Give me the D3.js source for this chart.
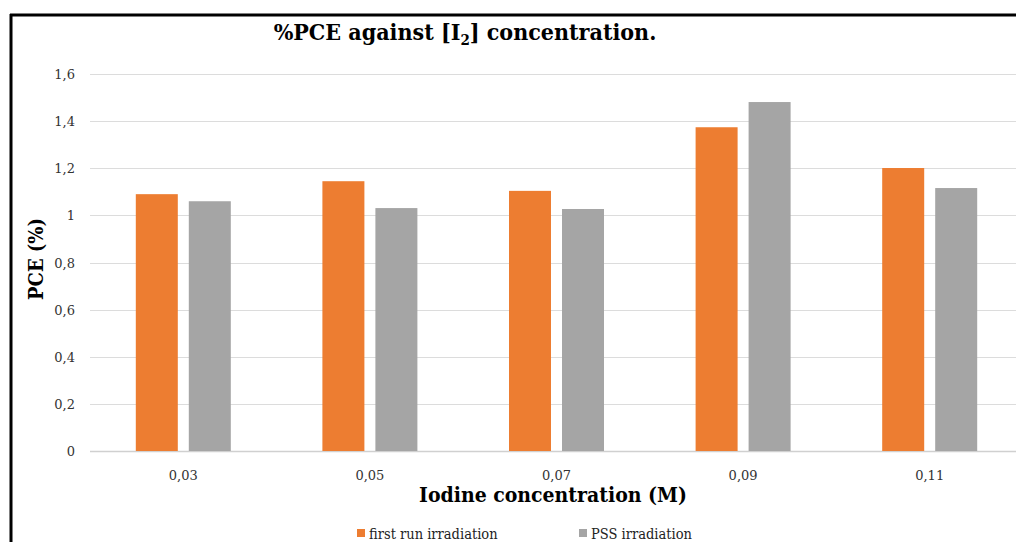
<!DOCTYPE html>
<html>
<head>
<meta charset="utf-8">
<script src="https://cdn.jsdelivr.net/npm/d3@7"></script>
<style>
  body { margin: 0; background: #fff; }
  svg { display: block; }
</style>
</head>
<body>
<div id="chart"></div>
<script>
// data
var categories = ["0,03", "0,05", "0,07", "0,09", "0,11"];
var seriesNames = ["first run irradiation", "PSS irradiation"];
var firstRun = [1.09, 1.145, 1.104, 1.374, 1.201];
var pss = [1.06, 1.031, 1.027, 1.481, 1.116];
var yTicks = [0, 0.2, 0.4, 0.6, 0.8, 1, 1.2, 1.4, 1.6];
var colors = ["#ed7d31", "#a5a5a5"];

var W = 1016, H = 542;
var svg = d3.select("#chart").append("svg")
  .attr("width", W).attr("height", H);

// frame round the chart
svg.append("line").attr("x1", 10).attr("x2", W).attr("y1", 15).attr("y2", 15)
  .attr("stroke", "#000").attr("stroke-width", 3);
svg.append("line").attr("x1", 11).attr("x2", 11).attr("y1", 14).attr("y2", H)
  .attr("stroke", "#000").attr("stroke-width", 3);

var plotL = 90, plotR = 1023, plotT = 74, plotB = 451;
var x = d3.scaleBand().domain(categories).range([plotL, plotR]);
var y = d3.scaleLinear().domain([0, 1.6]).range([plotB, plotT]);

var serif = "'DejaVu Serif', serif";
var serifC = "'DejaVu Serif Condensed', 'DejaVu Serif', serif";

// grid
svg.append("g").selectAll("line").data(yTicks).enter().append("line")
  .attr("x1", plotL).attr("x2", W)
  .attr("y1", function(d){ return Math.round(y(d)) + 0.5; })
  .attr("y2", function(d){ return Math.round(y(d)) + 0.5; })
  .attr("stroke", function(d){ return d == 0 ? "#d0d0d0" : "#dcdcdc"; })
  .attr("stroke-width", function(d){ return d == 0 ? 1.5 : 1; });

// y tick labels
svg.append("g").selectAll("text").data(yTicks).enter().append("text")
  .attr("x", 75).attr("y", function(d){ return y(d) + 5; })
  .attr("text-anchor", "end")
  .attr("font-family", serif).attr("font-size", 13).attr("fill", "#333")
  .text(function(d){ return String(d).replace(".", ","); });

// bars
var barW = 42, gap = 11;
var series = [firstRun, pss];
series.forEach(function(vals, s){
  svg.append("g").selectAll("rect").data(vals).enter().append("rect")
    .attr("x", function(d, i){
      var c = x(categories[i]) + x.bandwidth() / 2;
      return s == 0 ? c - gap / 2 - barW : c + gap / 2;
    })
    .attr("y", function(d){ return y(d); })
    .attr("width", barW)
    .attr("height", function(d){ return y(0) - y(d); })
    .attr("fill", colors[s]);
});

// x tick labels
svg.append("g").selectAll("text").data(categories).enter().append("text")
  .attr("x", function(d){ return x(d) + x.bandwidth() / 2; })
  .attr("y", 480)
  .attr("text-anchor", "middle")
  .attr("font-family", serif).attr("font-size", 13).attr("fill", "#333")
  .text(function(d){ return d; });

// title
var title = svg.append("text")
  .attr("x", 465).attr("y", 40)
  .attr("text-anchor", "middle")
  .attr("font-family", serifC).attr("font-weight", "bold").attr("font-size", 23)
  .attr("fill", "#000");
title.append("tspan").text("%PCE against [I");
title.append("tspan").attr("font-size", 15).attr("dy", 5).text("2");
title.append("tspan").attr("dy", -5).text("] concentration.");

// axis titles
svg.append("text")
  .attr("x", 553).attr("y", 502)
  .attr("text-anchor", "middle")
  .attr("font-family", serifC).attr("font-weight", "bold").attr("font-size", 21)
  .attr("fill", "#000")
  .text("Iodine concentration (M)");

svg.append("text")
  .attr("transform", "translate(43,259) rotate(-90)")
  .attr("text-anchor", "middle")
  .attr("font-family", serifC).attr("font-weight", "bold").attr("font-size", 20)
  .attr("fill", "#000")
  .text("PCE (%)");

// legend
var legX = [357, 579];
seriesNames.forEach(function(name, s){
  svg.append("rect").attr("x", legX[s]).attr("y", 529)
    .attr("width", 8).attr("height", 8).attr("fill", colors[s]);
  svg.append("text").attr("x", legX[s] + 12).attr("y", 539)
    .attr("font-family", serifC).attr("font-size", 14.5).attr("fill", "#222")
    .text(name);
});
</script>
</body>
</html>
